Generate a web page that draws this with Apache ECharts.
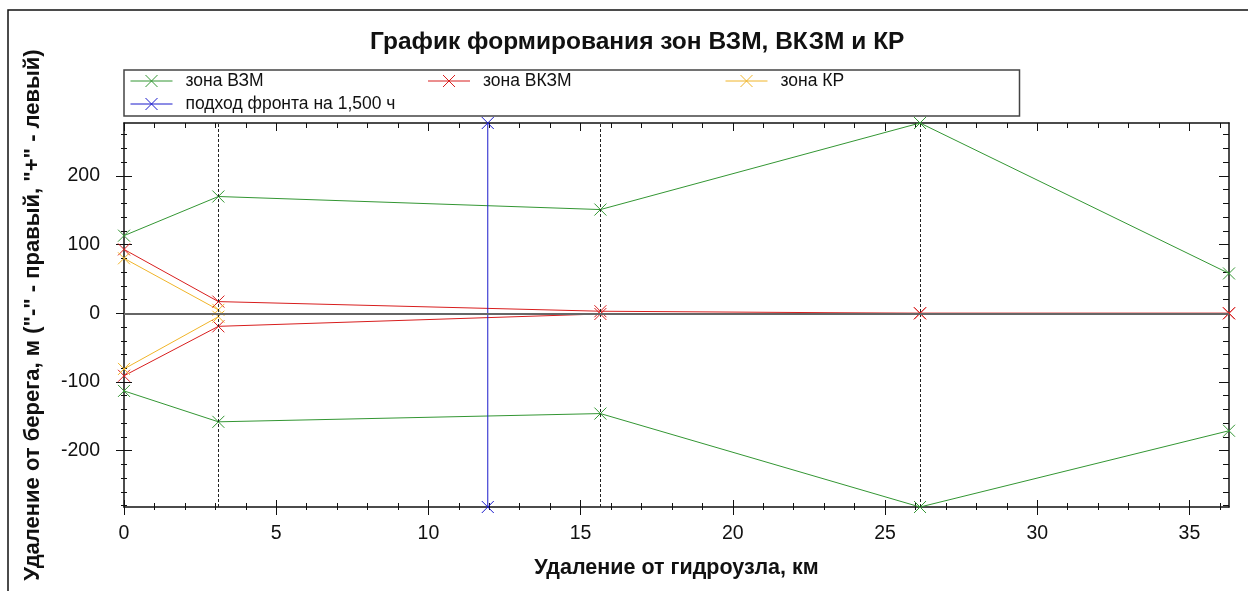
<!DOCTYPE html>
<html>
<head>
<meta charset="utf-8">
<script src="https://cdn.jsdelivr.net/npm/echarts@6/dist/echarts.min.js"></script>
<style>
  html, body { margin: 0; padding: 0; background: #fff; }
  #chart { width: 1248px; height: 591px; }
</style>
</head>
<body>
<div id="chart"></div>
<script>
// distances from the dam, km
const xKm = [0, 3.1, 15.65, 26.15, 36.3];
// zone widths from bank, m ("+" left, "-" right)
const vzmLeft = [113, 170, 151, 277, 58];
const vzmRight = [-113, -158, -146, -282, -171];
const vkzmLeft = [93, 17, 3, 0, 0];
const vkzmRight = [-91, -19, -1, 0, 0];
const krLeft = [80, 5, null, null, null];
const krRight = [-81, -5, null, null, null];
const frontKm = 11.95;
const sectionKm = [3.1, 15.65, 26.15];

const xMin = 0, xMax = 36.3;
const yMin = -282, yMax = 277;
const xMajor = [0, 5, 10, 15, 20, 25, 30, 35];
const xMinor = [1, 2, 3, 4, 6, 7, 8, 9, 11, 12, 13, 14, 16, 17, 18, 19, 21, 22, 23, 24, 26, 27, 28, 29, 31, 32, 33, 34, 36];
const yMajor = [-200, -100, 0, 100, 200];
const yMinor = [-280, -260, -240, -220, -180, -160, -140, -120, -80, -60, -40, -20, 20, 40, 60, 80, 120, 140, 160, 180, 220, 240, 260];

const names = ['зона ВЗМ', 'зона ВКЗМ', 'зона КР', 'подход фронта на 1,500 ч'];
const colors = ['#339633', '#d81e1e', '#f0b428', '#1a1acc'];

const FONT = 'Liberation Sans, Arial, sans-serif';
const crossPath = 'path://M0,0L10,10M10,0L0,10';
const legendPath = 'path://M0,6L42,6M15,0L27,12M27,0L15,12';

let chartDom = document.getElementById('chart');
let myChart = echarts.init(chartDom);

function pairs(ys) {
    return xKm.map((x, i) => [x, ys[i]]);
}

function tickAxis(pos, vals, inside, len, extra) {
    let ax = {
        type: 'value',
        position: pos,
        min: (pos === 'left' || pos === 'right') ? yMin : xMin,
        max: (pos === 'left' || pos === 'right') ? yMax : xMax,
        axisLine: {show: false, onZero: false},
        axisTick: {show: true, inside: inside, length: len, customValues: vals, lineStyle: {color: '#111', width: 1}},
        axisLabel: {show: false},
        splitLine: {show: false}
    };
    return Object.assign(ax, extra || {});
}

function zoneSeries(name, color, ys) {
    return {
        name: name,
        type: 'line',
        data: pairs(ys),
        symbol: crossPath,
        symbolSize: 12,
        showAllSymbol: true,
        connectNulls: false,
        itemStyle: {color: color, borderColor: color, borderWidth: 1},
        lineStyle: {color: color, width: 1},
        silent: true,
        animation: false
    };
}

let series = [
    zoneSeries(names[0], colors[0], vzmLeft),
    zoneSeries(names[0], colors[0], vzmRight),
    zoneSeries(names[1], colors[1], vkzmLeft),
    zoneSeries(names[1], colors[1], vkzmRight),
    zoneSeries(names[2], colors[2], krLeft),
    zoneSeries(names[2], colors[2], krRight),
    {
        name: names[3],
        type: 'line',
        data: [[frontKm, yMin], [frontKm, yMax]],
        symbol: crossPath,
        symbolSize: 12,
        itemStyle: {color: colors[3], borderColor: colors[3], borderWidth: 1},
        lineStyle: {color: colors[3], width: 1},
        silent: true,
        animation: false
    },
    {
        type: 'line',
        data: [],
        silent: true,
        animation: false,
        markLine: {
            silent: true,
            symbol: 'none',
            label: {show: false},
            animation: false,
            data: sectionKm.map(x => ({xAxis: x, lineStyle: {color: '#222', type: [3, 2], width: 1}}))
                .concat([{yAxis: 0, lineStyle: {color: '#666', type: 'solid', width: 2}}])
        }
    }
];

let option = {
    animation: false,
    textStyle: {fontFamily: FONT},
    title: {
        text: 'График формирования зон ВЗМ, ВКЗМ и КР',
        left: 370,
        top: 30,
        padding: 0,
        textStyle: {fontFamily: FONT, fontSize: 24.5, fontWeight: 'bold', color: '#111'}
    },
    legend: {
        left: 124,
        top: 70,
        width: 930,
        padding: [2, 4, 3, 4],
        itemGap: 5,
        itemWidth: 42,
        itemHeight: 12,
        backgroundColor: '#fff',
        borderColor: '#444',
        borderWidth: 1.5,
        borderRadius: 0,
        selectedMode: false,
        data: names.map((n, i) => ({
            name: n,
            icon: legendPath,
            itemStyle: {color: 'none', borderColor: colors[i], borderWidth: 1}
        })),
        textStyle: {fontFamily: FONT, fontSize: 17.5, color: '#111', width: 235, lineHeight: 16, padding: [0, 0, 0, 8]}
    },
    grid: {left: 124, right: 19, top: 123, bottom: 84, containLabel: false},
    xAxis: [
        tickAxis('bottom', xMajor, false, 8, {
            axisLine: {show: true, onZero: false, lineStyle: {color: '#111', width: 1.5}},
            axisLabel: {show: true, customValues: xMajor, fontSize: 19.5, color: '#111', fontFamily: FONT, margin: 17},
            name: 'Удаление от гидроузла, км',
            nameLocation: 'middle',
            nameGap: 50,
            nameTextStyle: {fontSize: 21.5, fontWeight: 'bold', color: '#111', fontFamily: FONT}
        }),
        tickAxis('bottom', xMajor, true, 7),
        tickAxis('bottom', xMinor, false, 3),
        tickAxis('bottom', xMinor, true, 4),
        tickAxis('top', xMajor, true, 8, {
            axisLine: {show: true, onZero: false, lineStyle: {color: '#111', width: 1.5}}
        }),
        tickAxis('top', xMinor, true, 5)
    ],
    yAxis: [
        tickAxis('left', yMajor, false, 8, {
            axisLine: {show: true, onZero: false, lineStyle: {color: '#111', width: 1.5}},
            axisLabel: {show: true, customValues: yMajor, fontSize: 19.5, color: '#111', fontFamily: FONT, margin: 24},
            name: 'Удаление от берега, м ("-" - правый, "+" - левый)',
            nameLocation: 'middle',
            nameGap: 80,
            nameTextStyle: {fontSize: 22, fontWeight: 'bold', color: '#111', fontFamily: FONT}
        }),
        tickAxis('left', yMajor, true, 8),
        tickAxis('left', yMinor, false, 3),
        tickAxis('left', yMinor, true, 3),
        tickAxis('right', yMajor, true, 10, {
            axisLine: {show: true, onZero: false, lineStyle: {color: '#111', width: 1.5}}
        }),
        tickAxis('right', yMinor, true, 6)
    ],
    graphic: [{
        type: 'rect',
        silent: true,
        z: -10,
        shape: {x: 8, y: 10, width: 1270, height: 620},
        style: {fill: 'none', stroke: '#111', lineWidth: 1.5}
    }],
    series: series
};

myChart.setOption(option);

window.addEventListener('resize', () => {
    myChart.resize()
})
</script>
</body>
</html>
